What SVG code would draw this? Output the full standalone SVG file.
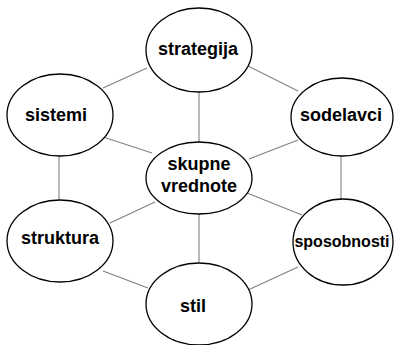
<svg xmlns="http://www.w3.org/2000/svg" width="395" height="345" viewBox="0 0 395 345">
<style>
.n{fill:#fff;stroke:#000;stroke-width:1.3}
.e{stroke:#808080;stroke-width:1.1;fill:none}
.t{font-family:"Liberation Sans",Arial,sans-serif;font-weight:bold;font-size:18px;fill:#000;text-anchor:middle}
</style>
<rect width="395" height="345" fill="#fff"/>
<g id="connectors">
<line class="e" x1="147" y1="68" x2="103" y2="88"/>
<line class="e" x1="248" y1="66" x2="298" y2="91"/>
<line class="e" x1="199" y1="92" x2="199" y2="142"/>
<line class="e" x1="103" y1="137" x2="152" y2="153"/>
<line class="e" x1="298" y1="140" x2="249" y2="159"/>
<line class="e" x1="59" y1="156" x2="59" y2="200"/>
<line class="e" x1="341" y1="156" x2="341" y2="199"/>
<line class="e" x1="155" y1="202" x2="110" y2="223"/>
<line class="e" x1="247" y1="193" x2="302" y2="215"/>
<line class="e" x1="199" y1="214" x2="199" y2="262"/>
<line class="e" x1="103" y1="271" x2="148" y2="288"/>
<line class="e" x1="298" y1="267" x2="248" y2="290"/>
</g>
<g id="strategija"><ellipse class="n" cx="199" cy="50" rx="53" ry="42"/><text class="t" x="198" y="55">strategija</text></g>
<g id="sistemi"><ellipse class="n" cx="60" cy="115" rx="53" ry="41"/><text class="t" x="56" y="121">sistemi</text></g>
<g id="sodelavci"><ellipse class="n" cx="342" cy="117" rx="51" ry="39"/><text class="t" x="341" y="121">sodelavci</text></g>
<g id="skupne_vrednote"><ellipse class="n" cx="199" cy="178" rx="53" ry="36"/><text class="t" x="199" y="170">skupne</text><text class="t" x="199" y="192">vrednote</text></g>
<g id="struktura"><ellipse class="n" cx="60" cy="241" rx="53" ry="41"/><text class="t" x="60" y="244">struktura</text></g>
<g id="sposobnosti"><ellipse class="n" cx="343" cy="242" rx="50" ry="43"/><text class="t" x="342" y="247" style="font-size:16px">sposobnosti</text></g>
<g id="stil"><ellipse class="n" cx="199" cy="304" rx="53" ry="41"/><text class="t" x="193" y="312">stil</text></g>
</svg>
